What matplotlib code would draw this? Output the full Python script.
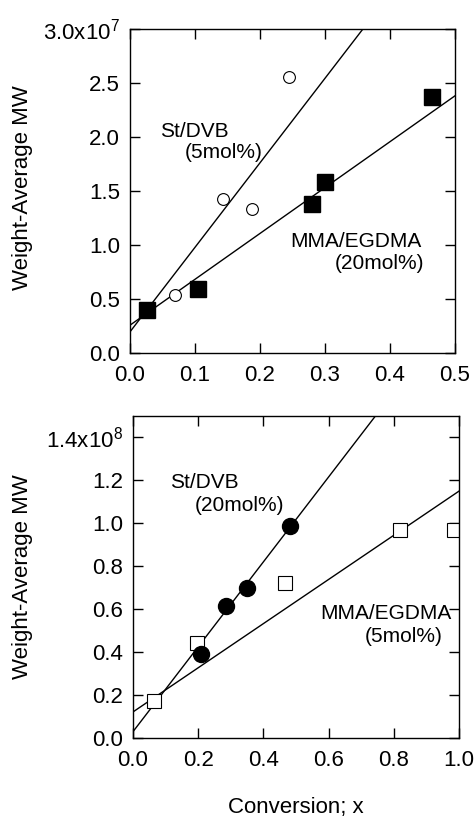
import numpy as np
import matplotlib
matplotlib.use("Agg")
import matplotlib.pyplot as plt

plt.rcParams['font.family'] = ['Liberation Sans', 'DejaVu Sans']
plt.rcParams['mathtext.fontset'] = 'custom'
plt.rcParams['mathtext.rm'] = 'Liberation Sans'

# top panel (MW in units of 1e7)
st5_x = [0.070, 0.143, 0.188, 0.245]
st5_y = [0.54, 1.43, 1.33, 2.56]
mma20_x = [0.026, 0.105, 0.280, 0.300, 0.465]
mma20_y = [0.40, 0.59, 1.38, 1.58, 2.37]
st5_fit = [7.83, 0.195]     # slope, intercept
mma20_fit = [4.25, 0.257]

# bottom panel (MW in units of 1e8)
st20_x = [0.210, 0.285, 0.350, 0.480]
st20_y = [0.39, 0.615, 0.70, 0.985]
mma5_x = [0.065, 0.195, 0.465, 0.820, 0.985]
mma5_y = [0.17, 0.44, 0.72, 0.97, 0.97]
st20_fit = [1.98, 0.028]
mma5_fit = [1.03, 0.12]

top_yticks = [0.0, 0.5, 1.0, 1.5, 2.0, 2.5, 3.0]
top_ylabels = ['0.0', '0.5', '1.0', '1.5', '2.0', '2.5', r'3.0x10$^{7}$']
bot_yticks = [0.0, 0.2, 0.4, 0.6, 0.8, 1.0, 1.2, 1.4]
bot_ylabels = ['0.0', '0.2', '0.4', '0.6', '0.8', '1.0', '1.2', r'1.4x10$^{8}$']

fig = plt.figure(figsize=(4.76, 8.18), dpi=100)
ax1 = fig.add_axes([0.273, 0.5685, 0.683, 0.396])
ax2 = fig.add_axes([0.2794, 0.0982, 0.685, 0.3932])


def style(ax):
    ax.tick_params(direction='in', top=True, right=True, length=7, width=1,
                   labelsize=16)
    ax.tick_params(axis='x', pad=9)
    ax.tick_params(axis='y', pad=7)
    for s in ax.spines.values():
        s.set_linewidth(1)


# top
xx = np.array([0.0, 0.5])
ax1.plot(xx, st5_fit[0] * xx + st5_fit[1], color='black', lw=1)
ax1.plot(xx, mma20_fit[0] * xx + mma20_fit[1], color='black', lw=1)
ax1.plot(st5_x, st5_y, 'o', ms=8.5, mfc='white', mec='black', mew=0.8, ls='none')
ax1.plot(mma20_x, mma20_y, 's', ms=11, mfc='black', mec='black', ls='none')
ax1.set_xlim(0, 0.5)
ax1.set_ylim(0, 3.0)
ax1.set_xticks([0.0, 0.1, 0.2, 0.3, 0.4, 0.5])
ax1.set_xticklabels(['0.0', '0.1', '0.2', '0.3', '0.4', '0.5'])
ax1.set_yticks(top_yticks)
ax1.set_yticklabels(top_ylabels)
ax1.set_ylabel('Weight-Average MW', fontsize=16)
ax1.yaxis.set_label_coords(-0.298, 0.51)
style(ax1)
ax1.text(0.046, 2.0, 'St/DVB', fontsize=15)
ax1.text(0.085, 1.81, '(5mol%)', fontsize=15)
ax1.text(0.247, 0.98, 'MMA/EGDMA', fontsize=15)
ax1.text(0.315, 0.78, '(20mol%)', fontsize=15)

# bottom
xx = np.array([0.0, 1.0])
ax2.plot(xx, st20_fit[0] * xx + st20_fit[1], color='black', lw=1)
ax2.plot(xx, mma5_fit[0] * xx + mma5_fit[1], color='black', lw=1)
ax2.plot(mma5_x, mma5_y, 's', ms=10, mfc='white', mec='black', mew=0.8, ls='none')
ax2.plot(st20_x, st20_y, 'o', ms=11.5, mfc='black', mec='black', ls='none')
ax2.set_xlim(0, 1.0)
ax2.set_ylim(0, 1.5)
ax2.set_xticks([0.0, 0.2, 0.4, 0.6, 0.8, 1.0])
ax2.set_xticklabels(['0.0', '0.2', '0.4', '0.6', '0.8', '1.0'])
ax2.set_yticks(bot_yticks)
ax2.set_yticklabels(bot_ylabels)
ax2.set_ylabel('Weight-Average MW', fontsize=16)
ax2.yaxis.set_label_coords(-0.307, 0.5)
style(ax2)
ax2.text(0.115, 1.165, 'St/DVB', fontsize=15)
ax2.text(0.19, 1.055, '(20mol%)', fontsize=15)
ax2.text(0.575, 0.555, 'MMA/EGDMA', fontsize=15)
ax2.text(0.71, 0.445, '(5mol%)', fontsize=15)

fig.text(296 / 476, 1 - 807 / 818, 'Conversion; x', fontsize=16,
         ha='center', va='center')

fig.savefig('out.png', dpi=100)
